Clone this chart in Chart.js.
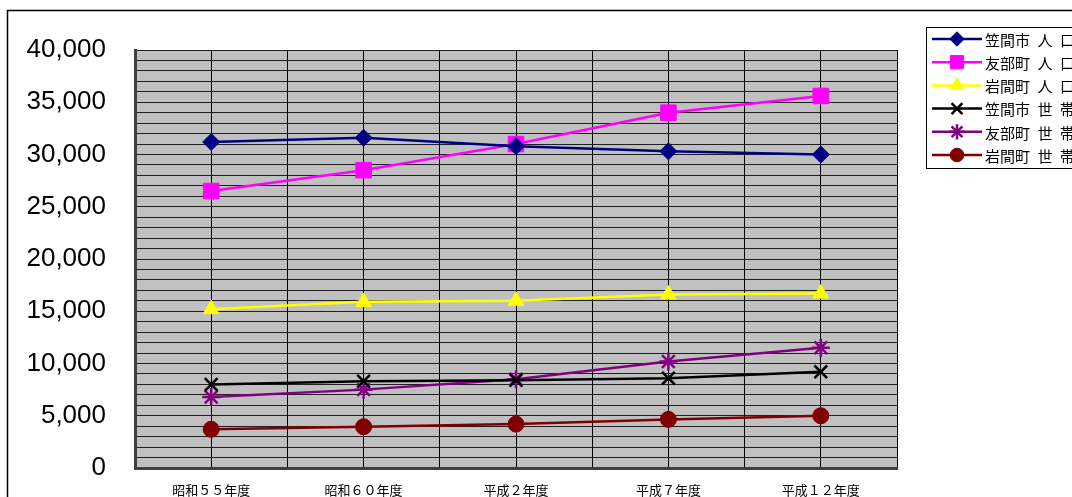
<!DOCTYPE html>
<html>
<head>
<meta charset="utf-8">
<script src="https://cdn.jsdelivr.net/npm/chart.js@4/dist/chart.umd.min.js"></script>
<style>
  html, body { margin: 0; padding: 0; background: #fff; }
  #wrap { width: 1072px; height: 497px; position: relative; }
</style>
</head>
<body>
<div id="wrap"><canvas id="popChart"></canvas></div>
<script>
// categories (年度)
const years = ['昭和５５年度', '昭和６０年度', '平成２年度', '平成７年度', '平成１２年度'];

// 人口
const kasamaPop = [31200, 31600, 30800, 30300, 30000];
const tomobePop = [26500, 28500, 31000, 34000, 35600];
const iwamaPop = [15200, 15900, 16000, 16600, 16700];

// 世帯
const kasamaHouse = [8000, 8300, 8400, 8600, 9200];
const tomobeHouse = [6800, 7500, 8500, 10200, 11500];
const iwamaHouse = [3700, 3950, 4200, 4650, 5000];

const yMin = 0;
const yMax = 40000;
const yLabelStep = 5000;

function series(label, data, color, style, radius) {
    return {
        label: label,
        data: data,
        borderColor: color,
        backgroundColor: color,
        pointBackgroundColor: color,
        pointBorderColor: color,
        pointStyle: style,
        pointRadius: radius,
        pointBorderWidth: (style === 'crossRot' || style === 'star') ? 2.5 : 1,
        borderWidth: 2.5,
        tension: 0,
        fill: false,
        xAxisID: 'x',
        yAxisID: 'y'
    };
}

// gray plot background + outer frame
const framePlugin = {
    id: 'frame',
    beforeDraw(chart) {
        const ctx = chart.ctx;
        const a = chart.chartArea;
        ctx.save();
        ctx.fillStyle = '#fff';
        ctx.fillRect(0, 0, chart.width, chart.height);
        ctx.strokeStyle = '#000';
        ctx.lineWidth = 1.5;
        ctx.strokeRect(7.5, 10.5, chart.width + 20, chart.height + 20);
        ctx.fillStyle = '#c0c0c0';
        ctx.fillRect(a.left, a.top, a.right - a.left, a.bottom - a.top);
        ctx.restore();
    }
};

// legend box with line + marker like the spreadsheet one
const legendPlugin = {
    id: 'boxLegend',
    afterDraw(chart) {
        const ctx = chart.ctx;
        const boxX = 926, boxY = 27, rowH = 23.2;
        ctx.save();
        ctx.fillStyle = '#fff';
        ctx.fillRect(boxX, boxY, 200, 141);
        ctx.strokeStyle = '#000';
        ctx.lineWidth = 1;
        ctx.strokeRect(boxX + 0.5, boxY + 0.5, 200, 141);
        chart.data.datasets.forEach(function(ds, i) {
            const y = boxY + 12 + i * rowH;
            ctx.strokeStyle = ds.borderColor;
            ctx.lineWidth = 2.5;
            ctx.beginPath();
            ctx.moveTo(932, y);
            ctx.lineTo(982, y);
            ctx.stroke();
            ctx.fillStyle = ds.backgroundColor;
            ctx.lineWidth = ds.pointBorderWidth;
            Chart.helpers.drawPoint(ctx, {
                pointStyle: ds.pointStyle,
                radius: ds.pointRadius * 0.85,
                rotation: 0,
                borderWidth: ds.pointBorderWidth
            }, 957, y);
            ctx.fillStyle = '#000';
            ctx.font = '15px "Noto Sans CJK JP"';
            ctx.textBaseline = 'middle';
            ctx.fillText(ds.label, 985, y + 1);
        });
        ctx.restore();
    }
};

const ctx = document.getElementById('popChart').getContext('2d');
new Chart(ctx, {
    type: 'line',
    data: {
        labels: years,
        datasets: [
            series('笠間市\u2002人\u2002口', kasamaPop, '#000080', 'rectRot', 8.5),
            series('友部町\u2002人\u2002口', tomobePop, '#ff00ff', 'rect', 11),
            series('岩間町\u2002人\u2002口', iwamaPop, '#ffff00', 'triangle', 9),
            series('笠間市\u2002世\u2002帯', kasamaHouse, '#000000', 'crossRot', 9),
            series('友部町\u2002世\u2002帯', tomobeHouse, '#800080', 'star', 9),
            series('岩間町\u2002世\u2002帯', iwamaHouse, '#800000', 'circle', 8)
        ]
    },
    options: {
        responsive: true,
        maintainAspectRatio: false,
        animation: false,
        layout: { padding: { top: 50, right: 175, bottom: 0, left: 0 } },
        plugins: {
            legend: { display: false },
            tooltip: { enabled: false }
        },
        scales: {
            x: {
                type: 'category',
                position: 'bottom',
                offset: true,
                grid: { offset: false, color: '#000', lineWidth: 1, drawTicks: false },
                border: { color: '#404040', width: 3 },
                ticks: {
                    padding: 14,
                    color: '#000',
                    font: { family: '"Noto Sans CJK JP"', size: 13 }
                },
                afterFit(scale) { scale.height = 29; }
            },
            x2: {
                type: 'category',
                position: 'top',
                labels: years,
                offset: true,
                grid: {
                    offset: true,
                    drawTicks: false,
                    color: (c) => c.index === years.length ? '#808080' : '#000',
                    lineWidth: (c) => c.index === years.length ? 3 : 1
                },
                border: { display: false },
                ticks: { display: false },
                afterFit(scale) { scale.height = 0; }
            },
            y: {
                min: yMin,
                max: yMax,
                grid: { color: '#202020', lineWidth: 1, drawTicks: false },
                border: { color: '#404040', width: 3 },
                ticks: {
                    stepSize: 1000,
                    autoSkip: false,
                    padding: 29,
                    color: '#000',
                    font: { family: '"Liberation Sans", Arial', size: 26 },
                    callback: function(v) {
                        return v % yLabelStep === 0 ? v.toLocaleString('en-US') : '';
                    }
                },
                afterFit(scale) {
                    scale.width = 135;
                    scale.paddingTop = 0;
                    scale.paddingBottom = 0;
                }
            }
        }
    },
    plugins: [framePlugin, legendPlugin]
});
</script>
</body>
</html>
